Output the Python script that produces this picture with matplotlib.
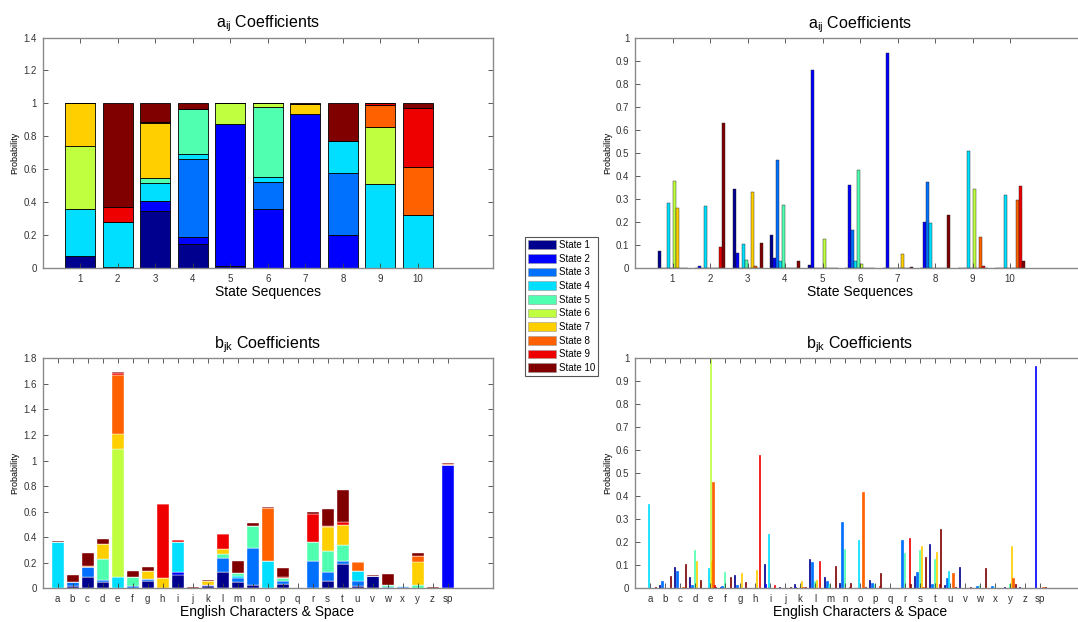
# HMM coefficient plots: a_ij (transitions) and b_jk (emissions)
import numpy as np
import matplotlib.pyplot as plt
from matplotlib.patches import Patch

plt.rcParams['font.family'] = ['Liberation Sans', 'DejaVu Sans']
plt.rcParams['mathtext.default'] = 'regular'

seq_labels = [str(i) for i in range(1, 11)]
char_labels = list('abcdefghijklmnopqrstuvwxyz') + ['sp']
state_names = ['State %d' % i for i in range(1, 11)]

# a_ij: one row per state sequence, columns = State 1..10
a_coef = np.array([
    [0.075, 0,     0,     0.285, 0,     0.38,  0.26,  0,     0,     0],
    [0,     0.01,  0,     0.27,  0,     0,     0,     0,     0.09,  0.63],
    [0.345, 0.065, 0,     0.105, 0.035, 0,     0.33,  0.01,  0,     0.11],
    [0.145, 0.045, 0.47,  0.03,  0.275, 0,     0.003, 0,     0,     0.032],
    [0.015, 0.86,  0,     0,     0,     0.125, 0,     0,     0,     0],
    [0,     0.36,  0.165, 0.03,  0.425, 0.02,  0,     0,     0,     0],
    [0,     0.935, 0,     0,     0,     0,     0.06,  0,     0,     0.005],
    [0,     0.2,   0.375, 0.195, 0,     0,     0,     0,     0,     0.23],
    [0,     0,     0,     0.51,  0,     0.345, 0,     0.135, 0.01,  0],
    [0,     0,     0,     0.32,  0,     0,     0,     0.295, 0.355, 0.03],
])

# b_jk: one row per character, columns = State 1..10
b_coef = np.array([
    [0,     0,     0,     0.365, 0,     0,   0,     0,     0,     0.005],  # a
    [0.015, 0,     0.033, 0,     0,     0,   0,     0,     0,     0.055],  # b
    [0.092, 0,     0.076, 0,     0,     0,   0,     0.004, 0,     0.105],  # c
    [0.05,  0,     0.013, 0,     0.165, 0,   0.117, 0,     0,     0.038],  # d
    [0,     0,     0,     0.088, 0,     1.0, 0.12,  0.463, 0.015, 0.005],  # e
    [0,     0.005, 0.01,  0,     0.073, 0,   0,     0,     0,     0.05],   # f
    [0.06,  0,     0.013, 0,     0,     0,   0.065, 0,     0,     0.028],  # g
    [0,     0,     0,     0,     0,     0,   0.08,  0,     0.578, 0],      # h
    [0.105, 0.02,  0,     0.238, 0,     0,   0,     0,     0.016, 0],      # i
    [0.004, 0,     0,     0,     0,     0,   0,     0,     0,     0.007],  # j
    [0.018, 0.004, 0,     0,     0,     0,   0.033, 0.005, 0,     0.005],  # k
    [0.128, 0,     0.113, 0,     0.03,  0,   0.035, 0,     0.117, 0],      # l
    [0.048, 0.005, 0.03,  0.015, 0.02,  0,   0,     0,     0.003, 0.095],  # m
    [0.025, 0,     0.288, 0,     0.171, 0,   0,     0,     0.005, 0.022],  # n
    [0,     0,     0,     0.212, 0,     0,   0,     0.42,  0,     0.005],  # o
    [0.036, 0,     0.025, 0,     0.02,  0,   0,     0,     0.01,  0.068],  # p
    [0,     0,     0,     0,     0,     0,   0,     0,     0,     0.002],  # q
    [0,     0,     0.21,  0,     0.152, 0,   0,     0,     0.217, 0.02],   # r
    [0.055, 0,     0.07,  0,     0.168, 0,   0.186, 0.005, 0,     0.137],  # s
    [0.194, 0,     0.017, 0,     0.128, 0,   0.157, 0,     0.019, 0.257],  # t
    [0.015, 0,     0.045, 0.077, 0,     0,   0,     0.065, 0,     0.005],  # u
    [0.094, 0,     0,     0,     0.003, 0,   0,     0,     0,     0.007],  # v
    [0,     0,     0.01,  0,     0.015, 0,   0,     0,     0,     0.09],   # w
    [0,     0,     0.012, 0.005, 0,     0,   0,     0,     0,     0],      # x
    [0.004, 0,     0,     0,     0.018, 0,   0.186, 0.045, 0,     0.02],   # y
    [0.005, 0,     0,     0,     0,     0,   0,     0,     0,     0.003],  # z
    [0,     0.965, 0,     0,     0,     0,   0.003, 0.006, 0,     0.006],  # sp
])

# matlab jet(64) rows 1, 8, 15, ... 64 (scaled cdata)
colors = [(0, 0, 0.5625), (0, 0, 1), (0, 0.4375, 1), (0, 0.875, 1),
          (0.3125, 1, 0.6875), (0.75, 1, 0.25), (1, 0.8125, 0),
          (1, 0.375, 0), (0.9375, 0, 0), (0.5, 0, 0)]

W, H = 1078.0, 622.0
fig = plt.figure(figsize=(W / 100, H / 100), dpi=100)


def add_axes(l, t, r, b):
    return fig.add_axes([l / W, 1 - b / H, (r - l) / W, (b - t) / H])


def stacked(ax, data, edge, lw):
    x = np.arange(1, len(data) + 1)
    bottom = np.zeros(len(data))
    for j in range(10):
        ax.bar(x, data[:, j], 0.8, bottom=bottom, color=colors[j],
               edgecolor=edge, linewidth=lw)
        bottom += data[:, j]


def grouped(ax, data, edge, lw, width):
    x = np.arange(1, len(data) + 1)
    for j in range(10):
        ax.bar(x + (j - 4.5) * 0.08, data[:, j], width, color=colors[j],
               edgecolor=edge if edge else colors[j], linewidth=lw)


def style(ax, xlim, ylim, ystep, labels, title, xlabel):
    ax.set_xlim(xlim)
    ax.set_ylim(ylim)
    ax.set_xticks(np.arange(1, len(labels) + 1))
    ax.set_xticklabels(labels)
    yt = np.round(np.arange(0, ylim[1] + 1e-9, ystep), 2)
    ax.set_yticks(yt)
    ax.set_yticklabels(['%g' % v for v in yt])
    ax.tick_params(direction='in', top=True, right=True, length=3.5, width=0.6,
                   color='#404040', labelsize=7, labelcolor='#333333', pad=4)
    for s in ax.spines.values():
        s.set_color('#8a8a8a')
        s.set_linewidth(1.0)
    ax.set_title(title, fontsize=11.5, pad=7)
    ax.set_xlabel(xlabel, fontsize=10, labelpad=1)
    ax.set_ylabel('Probability', fontsize=6.5, labelpad=3)


ax1 = add_axes(42.5, 37.5, 493, 268.2)
ax2 = add_axes(635, 38, 1085, 268.2)
ax3 = add_axes(42.5, 358.3, 492.5, 588.3)
ax4 = add_axes(635, 358.3, 1085, 588.3)

stacked(ax1, a_coef, 'black', 0.6)
grouped(ax2, a_coef, '#202020', 0.3, 0.08)
stacked(ax3, b_coef, 'white', 0.3)
grouped(ax4, b_coef, None, 0.5, 0.08)

a_title = 'a$_{ij}$ Coefficients'
b_title = 'b$_{jk}$ Coefficients'
style(ax1, (0, 12), (0, 1.4), 0.2, seq_labels, a_title, 'State Sequences')
style(ax2, (0, 12), (0, 1.0), 0.1, seq_labels, a_title, 'State Sequences')
style(ax3, (0, 30), (0, 1.8), 0.2, char_labels, b_title, 'English Characters & Space')
style(ax4, (0, 30), (0, 1.0), 0.1, char_labels, b_title, 'English Characters & Space')

handles = [Patch(facecolor=colors[j], edgecolor='#999999', linewidth=0.4)
           for j in range(10)]
leg = fig.legend(handles, state_names, loc='upper left',
                 bbox_to_anchor=(525 / W, 1 - 237 / H), fontsize=7,
                 frameon=True, fancybox=False, edgecolor='#555555',
                 framealpha=1, borderpad=0.3, labelspacing=0.38,
                 handlelength=2.9, handleheight=1.0, handletextpad=0.25,
                 borderaxespad=0)
leg.get_frame().set_linewidth(0.8)

fig.savefig('out.png', dpi=100)
